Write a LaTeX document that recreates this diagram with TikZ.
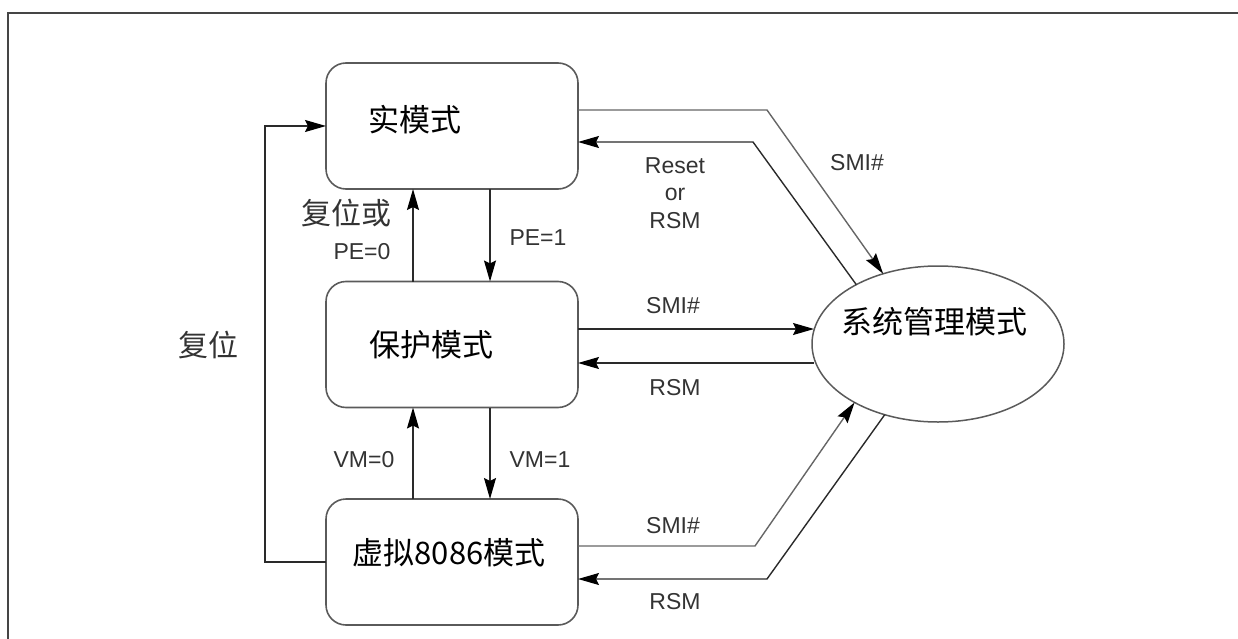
\documentclass[tikz,border=0pt]{standalone}
\usepackage{fontspec}
\setmainfont{Liberation Sans}
\newfontfamily\cjk{Noto Sans CJK SC}
\usetikzlibrary{shapes.geometric,arrows.meta,calc}
\definecolor{boxgray}{HTML}{5A5A5A}
\definecolor{linec}{HTML}{2A2A2A}
\definecolor{lbl}{HTML}{333333}
\definecolor{framec}{HTML}{454545}
\begin{document}
\begin{tikzpicture}[x=1pt,y=-1pt,
  modebox/.style={draw=boxgray, line width=1.6pt, rounded corners=20pt,
    minimum width=252pt, minimum height=126pt, inner sep=0pt, outer sep=0pt},
  smmshape/.style={ellipse, draw=boxgray, line width=1.5pt,
    minimum width=252pt, minimum height=156pt, inner sep=0pt, outer sep=0pt},
  cjkt/.style={font=\cjk\fontsize{31}{36}\selectfont, text=black, inner sep=0pt},
  cjkl/.style={font=\cjk\fontsize{30}{36}\selectfont, text=lbl, inner sep=0pt},
  lab/.style={font=\fontsize{23}{27.5}\selectfont, text=lbl, inner sep=0pt, align=center},
  arr/.style={draw=linec, line width=1.4pt,
    -{Stealth[length=21pt,width=12pt,inset=3pt,color=black]}},
  grayarr/.style={arr, draw=gray!80!black}
]
\useasboundingbox (0,0) rectangle (1238,639);
% frame
\draw[framec, line width=2.5pt] (8,639) -- (8,13) -- (1238,13);

% nodes
\node[modebox] (real) at (452,126) {};
\node[modebox] (prot) at (452,344.5) {};
\node[modebox] (v86) at (452,562) {};
\node[smmshape] (smm) at (938,344) {};

\node[cjkt] (treal) at (415,120) {实模式};
\node[cjkt] (tprot) at (431,345) {保护模式};
\node[cjkt] (tv86) at (449,553) {虚拟8086模式};
\node[cjkt] (tsmm) at (934,322) {系统管理模式};

% helper x positions
\coordinate (xup) at (413,0);
\coordinate (xdn) at (490,0);
\coordinate (rl) at (265,562);

% reset loop
\draw[arr] (v86.west) -- (rl) |- (real.west);
\node[cjkl] (lreset) at (208,345) {复位};

% real <-> protected
\draw[arr] (xup |- prot.north) -- (xup |- real.south);
\draw[arr] (xdn |- real.south) -- (xdn |- prot.north);
\node[cjkl] (lrpe) at (346,213) {复位或};
\node[lab] (lpe0) at (362,252) {PE=0};
\node[lab] (lpe1) at (538,238) {PE=1};

% protected <-> v86
\draw[arr] (xup |- v86.north) -- (xup |- prot.south);
\draw[arr] (xdn |- prot.south) -- (xdn |- v86.north);
\node[lab] (lvm0) at (364,460) {VM=0};
\node[lab] (lvm1) at (540,460) {VM=1};

% real <-> smm
\coordinate (b1) at (767,110);
\coordinate (b2) at (753,142);
\draw[grayarr] ($(real.east)+(0,-16)$) -- (b1) -- (smm.128);
\draw[arr] (smm.144.5) -- (b2) -- ($(real.east)+(0,16)$);
\node[lab] (lsmi1) at (857,163) {SMI\#};
\node[lab] (lrr) at (675,193) {Reset\\or\\RSM};

% protected <-> smm
\draw[arr] ($(prot.east)+(0,-15.5)$) -- ($(smm.west)+(2,-15)$);
\draw[arr] ($(smm.west)+(2,19)$) -- ($(prot.east)+(0,18.5)$);
\node[lab] (lsmi2) at (673,306) {SMI\#};
\node[lab] (lrsm2) at (675,388) {RSM};

% v86 <-> smm
\coordinate (b3) at (755,546);
\coordinate (b4) at (767,579);
\draw[grayarr] ($(v86.east)+(0,-16)$) -- (b3) -- (smm.215);
\draw[arr] (smm.233) -- (b4) -- ($(v86.east)+(0,17)$);
\node[lab] (lsmi3) at (673,526) {SMI\#};
\node[lab] (lrsm3) at (675,602) {RSM};
\end{tikzpicture}
\end{document}
